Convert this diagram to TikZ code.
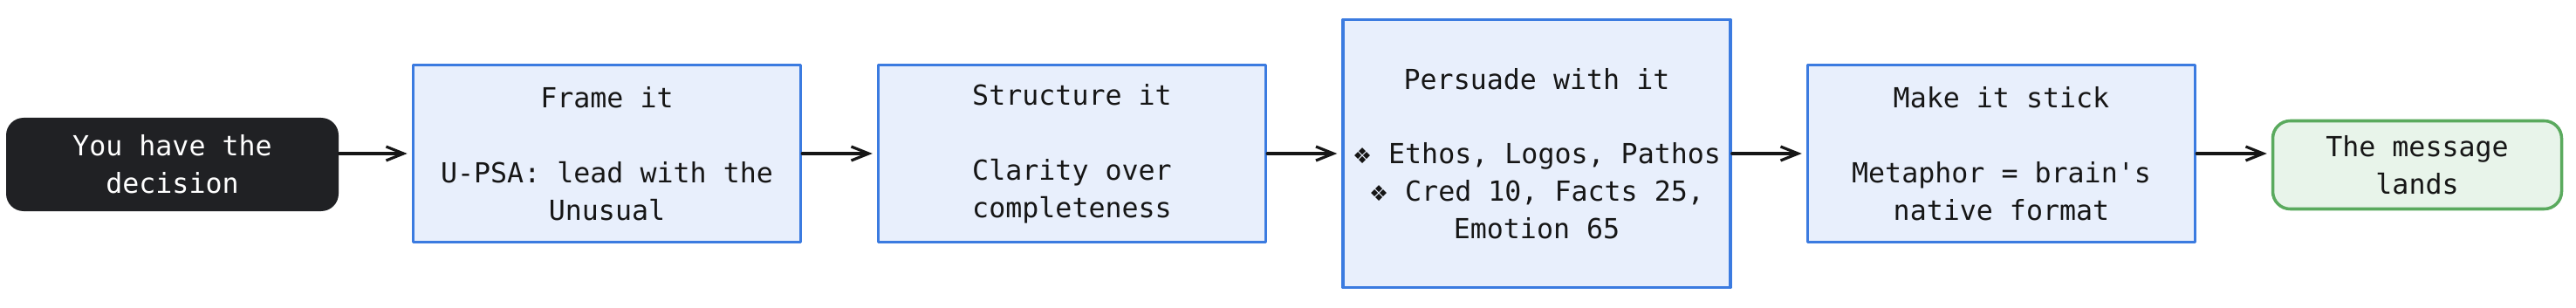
\documentclass[tikz,border=0pt]{standalone}
\usepackage{fontspec}
\setmonofont{DejaVu Sans Mono}
\newfontfamily\pfsymbols{DejaVu Sans}
\usepackage{tikz}
\usetikzlibrary{arrows.meta,positioning}
\definecolor{pfInk}{HTML}{161616}
\definecolor{pfDark}{HTML}{202124}
\definecolor{pfBlue}{HTML}{3B7BE0}
\definecolor{pfBlueFill}{HTML}{E8EFFC}
\definecolor{pfGreen}{HTML}{5AAA5E}
\definecolor{pfGreenFill}{HTML}{E8F4EA}
\newcommand{\pfbullet}{{\pfsymbols\fontsize{7}{12.2}\selectfont ❖}}
\tikzset{
  pf diagram/.style={font=\ttfamily\fontsize{9}{12.2}\selectfont, text=pfInk,
    line cap=round, line join=round},
  pf stepbox/.style={draw=pfBlue, fill=pfBlueFill, line width=1pt,
    align=center, inner sep=0pt, minimum width=4.44cm, minimum height=2.03cm},
  pf start/.style={fill=pfDark, text=white, rounded corners=0.2cm,
    align=center, inner sep=0pt, minimum width=3.81cm, minimum height=1.07cm},
  pf end/.style={draw=pfGreen, fill=pfGreenFill, line width=1pt, rounded corners=0.2cm,
    align=center, inner sep=0pt, minimum width=3.31cm, minimum height=1.01cm},
  pf arrow/.style={-{Straight Barb[length=2mm,width=1.6mm]}, draw=pfInk,
    line width=0.9pt, shorten >=0.5mm}
}
\begin{document}
\begin{tikzpicture}[pf diagram]
\useasboundingbox (0,0) rectangle (29.52,3.52);
\node[pf start] (start) at (1.975,1.635) {You have the\\decision};
\node[pf stepbox] (frame) at (6.955,1.76) {Frame it\\~\\U-PSA: lead with the\\Unusual};
\node[pf stepbox] (structure) at (12.285,1.76) {Structure it\\~\\Clarity over\\completeness};
\node[pf stepbox, minimum height=3.07cm] (persuade) at (17.61,1.76)
  {Persuade with it\\~\\\pfbullet{} Ethos, Logos, Pathos\\\pfbullet{} Cred 10, Facts 25,\\Emotion 65};
\node[pf stepbox] (stick) at (22.935,1.76) {Make it stick\\~\\Metaphor = brain's\\native format};
\node[pf end] (land) at (27.70,1.63) {The message\\lands};
\draw[pf arrow] (start.east |- frame.west) -- (frame.west);
\foreach \a/\b in {frame/structure,structure/persuade,persuade/stick}{
  \draw[pf arrow] (\a) -- (\b);
}
\draw[pf arrow] (stick.east) -- (stick.east -| land.west);
\end{tikzpicture}
\end{document}
